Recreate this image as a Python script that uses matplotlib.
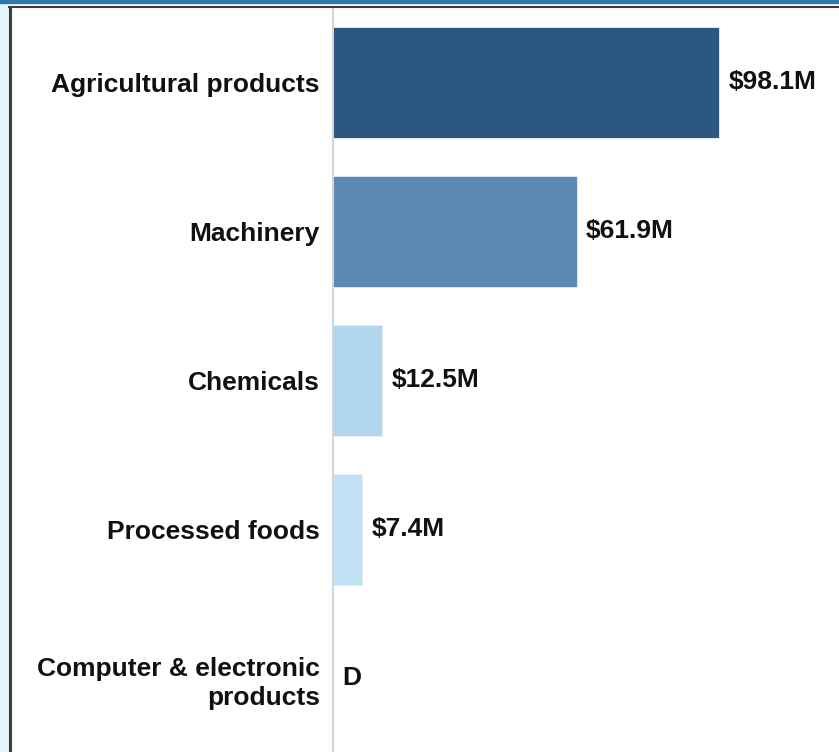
import matplotlib.pyplot as plt
from matplotlib.lines import Line2D
from matplotlib.patches import Rectangle

# data
categories = ["Agricultural products", "Machinery", "Chemicals",
              "Processed foods", "Computer & electronic\nproducts"]
values = [98.1, 61.9, 12.5, 7.4, None]   # None = withheld ("D")
value_labels = ["$98.1M", "$61.9M", "$12.5M", "$7.4M", "D"]
bar_colors = ["#2c5782", "#5a8ab5", "#b2d6ee", "#bfe1f3", "#bfe1f3"]

plt.rcParams['font.family'] = ['Liberation Sans', 'DejaVu Sans']

W, H = 839, 752
fig = plt.figure(figsize=(W / 100, H / 100), dpi=100)

# frame pieces from the surrounding page
fig.patches.append(Rectangle((0, 0), 8 / W, 1, transform=fig.transFigure,
                             color="#e4f6fb", zorder=0))
fig.patches.append(Rectangle((0, 1 - 3 / H), 1, 3 / H, transform=fig.transFigure,
                             color="#2a78ad", zorder=0))
fig.lines.append(Line2D([10 / W, 10 / W], [0, 1 - 6.5 / H], transform=fig.transFigure,
                        color="#3c3c3c", lw=2.2))
fig.lines.append(Line2D([9 / W, 1], [1 - 6.5 / H, 1 - 6.5 / H], transform=fig.transFigure,
                        color="#3c3c3c", lw=1.5))

ax = fig.add_axes([333 / W, 0, (W - 333) / W, 1 - 8 / H])

ypos = list(range(len(categories)))
plot_vals = [v if v is not None else 0 for v in values]
ax.barh(ypos, plot_vals, height=0.745, color=bar_colors,
        edgecolor="#e8eef4", linewidth=0.6)

for y, v, lab in zip(ypos, plot_vals, value_labels):
    ax.annotate(lab, (v, y), xytext=(6.8, 0.5), textcoords="offset points",
                ha="left", va="center", fontsize=19, fontweight="bold",
                color="#111111")

ax.set_yticks(ypos)
ax.set_yticklabels(categories, fontsize=19, fontweight="bold",
                   color="#111111", linespacing=1.25)
ax.tick_params(axis="y", length=0, pad=9.4)
ax.set_xticks([])
ax.set_xlim(0, 128.6)
ax.set_ylim(4.493, -0.5)

for s in ["top", "right", "bottom"]:
    ax.spines[s].set_visible(False)
ax.spines["left"].set_color("#d4d4d4")
ax.spines["left"].set_linewidth(1.5)

fig.savefig("out.png", dpi=100)
